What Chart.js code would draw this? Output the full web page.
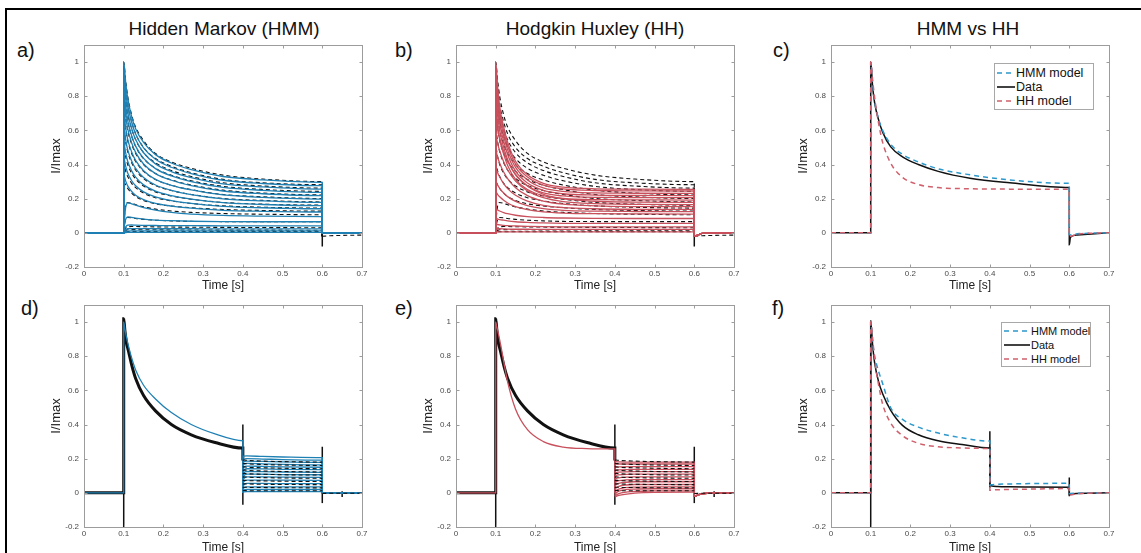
<!DOCTYPE html>
<html><head><meta charset="utf-8">
<script src="https://cdn.jsdelivr.net/npm/chart.js@4.4.1/dist/chart.umd.min.js"></script>
<style>
html,body{margin:0;padding:0;background:#fff;}
body{width:1141px;height:553px;overflow:hidden;position:relative;font-family:"Liberation Sans",Arial,Helvetica,sans-serif;}
.frame{position:absolute;left:5px;top:8px;width:1200px;height:600px;border-left:2px solid #000;border-top:2px solid #000;}
canvas{position:absolute;}
.ttl{position:absolute;font-size:19px;line-height:19px;color:#111;white-space:nowrap;transform:translateX(-50%);}
.lbl{position:absolute;font-size:20px;line-height:20px;color:#111;}
.legend{position:absolute;border:1px solid #a8a8a8;background:#fff;color:#111;box-sizing:border-box;}
.legend .row{position:absolute;left:2px;white-space:nowrap;display:flex;align-items:center;}
.legend svg{display:block;margin-right:1px;}
</style>
</head><body>
<div class="frame"></div>
<div class="ttl" style="left:224px;top:19px">Hidden Markov (HMM)</div>
<div class="ttl" style="left:595px;top:19px">Hodgkin Huxley (HH)</div>
<div class="ttl" style="left:968px;top:19px">HMM vs HH</div>
<div class="lbl" style="left:17px;top:40px">a)</div>
<div class="lbl" style="left:395px;top:40px">b)</div>
<div class="lbl" style="left:773px;top:40px">c)</div>
<div class="lbl" style="left:21px;top:298px">d)</div>
<div class="lbl" style="left:395px;top:298px">e)</div>
<div class="lbl" style="left:772px;top:298px">f)</div>
<canvas id="ca"></canvas><canvas id="cb"></canvas><canvas id="cc"></canvas>
<canvas id="cd"></canvas><canvas id="ce"></canvas><canvas id="cf"></canvas>
<div id="legC" class="legend"></div>
<div id="legF" class="legend"></div>
<script>
// ---------- axis ticks ----------
const xTicks = [0, 0.1, 0.2, 0.3, 0.4, 0.5, 0.6, 0.7];
const yTicks = [-0.2, 0, 0.2, 0.4, 0.6, 0.8, 1];

// ---------- top row (a, b): step 0.1..0.6 s ----------
const timeTop = [0, 0.1, 0.1, 0.105, 0.11, 0.12, 0.13, 0.15, 0.18, 0.22, 0.27, 0.35, 0.45, 0.6, 0.6, 0.62, 0.7];
const hmmTracesA = [
 [0,0,1.00,.88,.79,.68,.61,.53,.458,.409,.37,.33,.31,.296,0,0,0],
 [0,0,.95,.835,.748,.647,.579,.498,.431,.384,.347,.308,.289,.276,0,0,0],
 [0,0,.90,.791,.707,.61,.546,.469,.404,.359,.324,.287,.269,.256,0,0,0],
 [0,0,.84,.737,.659,.569,.508,.436,.376,.333,.30,.266,.249,.237,0,0,0],
 [0,0,.78,.684,.611,.527,.471,.403,.347,.308,.277,.245,.229,.218,0,0,0],
 [0,0,.70,.615,.549,.474,.424,.364,.313,.278,.251,.222,.208,.198,0,0,0],
 [0,0,.62,.545,.487,.421,.377,.324,.28,.249,.224,.199,.187,.178,0,0,0],
 [0,0,.53,.467,.419,.363,.326,.281,.244,.218,.198,.177,.166,.159,0,0,0],
 [0,0,.44,.389,.35,.305,.276,.24,.21,.189,.172,.155,.147,.141,0,0,0],
 [0,0,.34,.303,.275,.242,.22,.194,.172,.157,.145,.132,.126,.122,0,0,0],
 [0,0,.05,.15,.176,.17,.162,.148,.133,.12,.11,.102,.098,.095,0,0,0],
 [0,0,.03,.08,.094,.09,.086,.08,.075,.071,.068,.066,.065,.065,0,0,0],
 [0,0,.01,.035,.045,.046,.045,.044,.043,.042,.042,.041,.041,.041,0,0,0],
 [0,0,.005,.018,.024,.025,.025,.025,.024,.024,.024,.023,.023,.023,0,0,0],
 [0,0,.002,.008,.01,.011,.011,.011,.011,.011,.011,.011,.011,.011,0,0,0],
 [0,0,0,.002,.003,.003,.003,.003,.003,.003,.003,.003,.003,.003,0,0,0]
];
const timeTopData = [0, 0.1, 0.1, 0.105, 0.11, 0.12, 0.13, 0.15, 0.18, 0.22, 0.27, 0.35, 0.45, 0.6, 0.6];
const dataTracesAB = [
 [0,0,1.00,.89,.80,.69,.62,.54,.465,.415,.378,.338,.315,.30,-.02],
 [0,0,.96,.84,.75,.65,.58,.50,.435,.39,.352,.313,.293,.282,-.02],
 [0,0,.90,.79,.70,.61,.545,.47,.41,.365,.33,.293,.274,.262,-.02],
 [0,0,.84,.73,.655,.565,.505,.435,.378,.337,.305,.272,.254,.243,-.02],
 [0,0,.77,.675,.60,.52,.465,.40,.347,.31,.28,.25,.233,.222,-.02],
 [0,0,.69,.605,.54,.465,.418,.36,.312,.279,.253,.225,.211,.201,-.02],
 [0,0,.60,.53,.475,.41,.368,.318,.277,.248,.225,.201,.19,.181,-.02],
 [0,0,.50,.445,.40,.35,.315,.274,.24,.216,.197,.178,.168,.162,-.02],
 [0,0,.40,.36,.33,.29,.265,.233,.206,.187,.172,.158,.15,.145,-.02],
 [0,0,.30,.28,.26,.232,.213,.19,.17,.157,.147,.137,.131,.127,-.02],
 [0,0,.08,.16,.178,.172,.165,.152,.139,.128,.12,.113,.109,.106,-.02],
 [0,0,.04,.08,.09,.088,.084,.079,.074,.07,.067,.066,.066,.066,-.02],
 [0,0,.01,.028,.035,.037,.037,.036,.035,.034,.033,.032,.031,.03,-.02],
 [0,0,.005,.014,.018,.019,.019,.018,.018,.017,.017,.016,.016,.015,-.02],
 [0,0,.002,.006,.007,.007,.007,.007,.007,.007,.007,.007,.007,.007,-.02]
];
const dataTailTime = [0.6, 0.62, 0.7];
const dataTailAB = [-0.02, -0.017, -0.013];
const hhTracesB = [
 [0,0,1.00,.851,.739,.62,.531,.419,.34,.29,.268,.258,.256,.255,-.02,-.003,0],
 [0,0,.96,.817,.71,.595,.51,.402,.327,.279,.257,.248,.246,.245,-.02,-.003,0],
 [0,0,.92,.782,.679,.569,.486,.383,.31,.263,.243,.234,.232,.231,-.02,-.003,0],
 [0,0,.87,.74,.642,.537,.459,.361,.292,.249,.229,.221,.219,.218,-.02,-.003,0],
 [0,0,.81,.689,.599,.502,.43,.339,.275,.234,.216,.208,.207,.206,-.02,-.003,0],
 [0,0,.74,.63,.548,.461,.395,.313,.254,.218,.201,.194,.193,.192,-.02,-.003,0],
 [0,0,.66,.602,.554,.477,.419,.342,.274,.226,.20,.185,.18,.178,-.02,-.003,0],
 [0,0,.57,.521,.481,.416,.368,.303,.246,.206,.183,.171,.167,.165,-.02,-.003,0],
 [0,0,.48,.441,.408,.356,.317,.264,.218,.186,.168,.158,.154,.153,-.02,-.003,0],
 [0,0,.38,.351,.327,.288,.259,.22,.186,.161,.148,.141,.138,.137,-.02,-.003,0],
 [0,0,.30,.279,.261,.233,.212,.184,.159,.142,.132,.127,.125,.124,-.02,-.003,0],
 [0,0,.24,.224,.211,.191,.175,.154,.136,.123,.116,.112,.111,.11,-.02,-.003,0],
 [0,0,.14,.133,.128,.119,.112,.103,.095,.09,.087,.085,.084,.084,-.02,-.003,0],
 [0,0,.085,.081,.078,.074,.07,.065,.061,.058,.056,.055,.055,.055,-.02,-.003,0],
 [0,0,.05,.048,.047,.044,.042,.04,.038,.036,.035,.035,.035,.035,-.02,-.003,0],
 [0,0,.025,.024,.024,.023,.022,.021,.021,.02,.02,.02,.02,.02,-.02,-.003,0],
 [0,0,.006,.006,.006,.006,.006,.006,.006,.006,.006,.006,.006,.006,-.02,-.003,0]
];
// recording artefacts (x, low, high)
const spikeTopX = [0, 0.6];
const spikeTopLo = [0, -0.08];
const spikeTopHi = [0.03, 0];

// ---------- panel c ----------
const timeC = [0, 0.1, 0.1, 0.105, 0.11, 0.12, 0.13, 0.15, 0.18, 0.22, 0.27, 0.35, 0.45, 0.6, 0.6, 0.603, 0.62, 0.7];
const cHmm  = [0,0,1.00,.87,.77,.665,.60,.52,.46,.415,.375,.34,.31,.29,-.01,-.012,-.006,0];
const cData = [0,0,1.00,.85,.76,.66,.59,.505,.445,.40,.36,.32,.293,.265,-.07,-.025,-.012,0];
const cHh   = [0,0,1.00,.89,.79,.64,.53,.41,.325,.283,.265,.258,.256,.255,-.02,-.02,-.008,0];

// ---------- bottom row (d, e): conditioning pulse 0.1..0.4 s ----------
const timeCond = [0, 0.1, 0.1, 0.103, 0.107, 0.113, 0.12, 0.13, 0.15, 0.18, 0.22, 0.27, 0.33, 0.4, 0.4];
const condData = [0,0,1.02,.95,.88,.82,.75,.67,.57,.48,.40,.34,.295,.262,.19];
const condHmmD = [0,0,1.00,.96,.91,.85,.79,.72,.63,.55,.47,.40,.345,.305,0];
const condHhE  = [0,0,1.00,.97,.93,.86,.77,.65,.49,.37,.30,.268,.259,.257,0];
// test pulses 0.4..0.6 s
const timeTest = [0.4, 0.402, 0.41, 0.45, 0.5, 0.6, 0.6, 0.62, 0.7];
const hmmTestD = [
 [.20,.215,.216,.213,.21,.206,0,0,0],
 [.17,.195,.20,.198,.195,.192,0,0,0],
 [.15,.18,.186,.184,.181,.178,0,0,0],
 [.12,.165,.172,.17,.167,.164,0,0,0],
 [.10,.15,.157,.155,.152,.15,0,0,0],
 [.08,.132,.141,.14,.138,.136,0,0,0],
 [.06,.115,.125,.124,.122,.12,0,0,0],
 [.04,.098,.11,.109,.107,.106,0,0,0],
 [.03,.082,.094,.093,.092,.091,0,0,0],
 [.02,.064,.075,.075,.074,.073,0,0,0],
 [.01,.045,.055,.055,.054,.054,0,0,0],
 [.005,.028,.035,.035,.035,.035,0,0,0],
 [0,.015,.02,.02,.02,.02,0,0,0],
 [0,.005,.008,.008,.008,.008,0,0,0]
];
const timeTestData = [0.4, 0.402, 0.41, 0.45, 0.5, 0.6];
const dataTestDE = [
 [.19,.192,.19,.186,.183,.18],
 [.17,.172,.17,.166,.163,.16],
 [.15,.153,.15,.147,.144,.141],
 [.13,.134,.132,.128,.125,.122],
 [.11,.114,.112,.109,.106,.104],
 [.09,.094,.092,.089,.087,.085],
 [.07,.074,.072,.07,.068,.066],
 [.05,.053,.052,.05,.049,.048],
 [.03,.033,.032,.031,.03,.029],
 [.012,.014,.013,.012,.012,.012]
];
const dataTailDETime = [0.6, 0.63, 0.7];
const dataTailDE = [-0.004, -0.002, -0.002];
const hhTestE = [
 [.18,.182,.181,.18,.18,.18,-.02,-.004,0],
 [.165,.168,.169,.169,.169,.169,-.02,-.004,0],
 [.145,.15,.152,.153,.153,.153,-.02,-.004,0],
 [.125,.132,.135,.137,.137,.137,-.02,-.004,0],
 [.11,.117,.121,.124,.124,.124,-.02,-.004,0],
 [.09,.10,.105,.11,.11,.11,-.02,-.004,0],
 [.07,.08,.088,.094,.094,.094,-.02,-.004,0],
 [.05,.062,.071,.078,.078,.078,-.02,-.004,0],
 [.03,.045,.056,.065,.065,.065,-.02,-.004,0],
 [.01,.025,.038,.049,.049,.049,-.02,-.004,0],
 [-.005,.01,.022,.034,.035,.035,-.02,-.004,0],
 [-.015,-.005,.01,.022,.024,.024,-.02,-.004,0],
 [-.02,-.015,-.005,.008,.011,.012,-.02,-.004,0],
 [-.025,-.022,-.015,-.002,.003,.004,-.02,-.004,0]
];
const spikeBotX  = [0.1, 0.4, 0.6, 0.65];
const spikeBotLo = [-0.2, -0.07, -0.06, -0.025];
const spikeBotHi = [1.02, 0.40, 0.27, 0.01];

// ---------- panel f ----------
const timeF = [0, 0.1, 0.1, 0.105, 0.11, 0.12, 0.13, 0.15, 0.18, 0.22, 0.27, 0.33, 0.4, 0.4, 0.403, 0.42, 0.45, 0.5, 0.6, 0.6, 0.603, 0.62, 0.7];
const fHmm  = [0,0,1.00,.88,.80,.71,.64,.50,.43,.385,.35,.322,.303,.045,.047,.05,.052,.054,.056,-.005,-.004,-.002,0];
const fData = [0,0,1.00,.86,.76,.65,.58,.485,.395,.34,.305,.283,.262,.045,.042,.037,.035,.034,.033,-.01,-.008,-.004,0];
const fHh   = [0,0,1.00,.90,.78,.63,.52,.41,.335,.29,.27,.263,.26,.015,.016,.018,.02,.022,.025,-.01,-.012,-.005,0];
const spikeFX  = [0.1, 0.4, 0.6];
const spikeFLo = [-0.2, 0.03, -0.02];
const spikeFHi = [1.01, 0.36, 0.09];

// ---------- styling ----------
const BLUE = '#1f80b4', RED = '#c8505c', BLACK = '#111111';
const BLUE_D = '#2b98cc', RED_D = '#d0606c';
const FONT = '"Liberation Sans", Arial, Helvetica, sans-serif';
const W = 278, H = 222;

function pts(times, vals) { return times.map((t, i) => ({x: t, y: vals[i]})); }
function line(times, vals, color, width, dash, order, label) {
  return { label: label || '', data: pts(times, vals), borderColor: color, borderWidth: width,
    borderDash: dash || [], pointRadius: 0, fill: false, order: order,
    cubicInterpolationMode: 'monotone', borderCapStyle: 'butt' };
}
function spikes(xs, lo, hi, color, width, order) {
  return xs.map((x, i) => ({ data: [{x: x, y: lo[i]}, {x: x, y: hi[i]}], borderColor: color,
    borderWidth: width, pointRadius: 0, fill: false, order: order, tension: 0 }));
}

const frameTicks = {
  id: 'frameTicks',
  afterDraw(chart) {
    const {ctx, chartArea: a, scales} = chart;
    const L = Math.round(a.left) + 0.5, R = Math.round(a.right) + 0.5;
    const T = Math.round(a.top) + 0.5, B = Math.round(a.bottom) + 0.5;
    ctx.save();
    ctx.strokeStyle = '#9c9c9c'; ctx.lineWidth = 1; ctx.setLineDash([]);
    ctx.strokeRect(L, T, R - L, B - T);
    ctx.beginPath();
    scales.x.ticks.forEach(t => {
      const p = Math.round(scales.x.getPixelForValue(t.value)) + 0.5;
      ctx.moveTo(p, B); ctx.lineTo(p, B - 3); ctx.moveTo(p, T); ctx.lineTo(p, T + 3);
    });
    scales.y.ticks.forEach(t => {
      const p = Math.round(scales.y.getPixelForValue(t.value)) + 0.5;
      ctx.moveTo(L, p); ctx.lineTo(L + 3, p); ctx.moveTo(R, p); ctx.lineTo(R - 3, p);
    });
    ctx.stroke();
    ctx.restore();
  }
};

function fmt(v) { return String(+(+v).toFixed(1)); }

function makeChart(id, left, top, datasets, xTitleGap) {
  const cv = document.getElementById(id);
  cv.width = W + 70; cv.height = H + 50;
  cv.style.left = (left - 60) + 'px'; cv.style.top = (top - 10) + 'px';
  return new Chart(cv, {
    type: 'line',
    data: { datasets: datasets },
    options: {
      responsive: false, animation: false, events: [],
      layout: { padding: { top: 10, right: 10, left: 0, bottom: 0 } },
      plugins: { legend: { display: false }, tooltip: { enabled: false } },
      scales: {
        x: { type: 'linear', min: 0, max: 0.7,
          afterBuildTicks: s => { s.ticks = xTicks.map(v => ({value: v})); },
          afterFit: s => { s.height = 40; },
          grid: { display: false, drawTicks: false }, border: { display: false },
          ticks: { padding: 2, color: '#4a4a4a', font: { family: FONT, size: 8 }, maxRotation: 0, callback: fmt },
          title: { display: true, text: 'Time [s]', color: '#222', font: { family: FONT, size: 12 },
                   padding: { top: 0, bottom: xTitleGap } } },
        y: { type: 'linear', min: -0.2, max: 1.1,
          afterBuildTicks: s => { s.ticks = yTicks.map(v => ({value: v})); },
          afterFit: s => { s.width = 60; },
          grid: { display: false, drawTicks: false }, border: { display: false },
          ticks: { padding: 5, color: '#4a4a4a', font: { family: FONT, size: 8 }, callback: fmt },
          title: { display: true, text: 'I/Imax', color: '#222', font: { family: FONT, size: 13 },
                   padding: { top: 25, bottom: 0 } } }
      }
    },
    plugins: [frameTicks]
  });
}

// ---- panel a ----
let dsA = [];
hmmTracesA.forEach(v => dsA.push(line(timeTop, v, BLUE, 1.3, null, 1)));
dataTracesAB.forEach(v => dsA.push(line(timeTopData, v, BLACK, 1.1, [4, 3], 2)));
dsA.push(line(dataTailTime, dataTailAB, BLACK, 1.1, [4, 3], 2));
dsA = dsA.concat(spikes(spikeTopX, spikeTopLo, spikeTopHi, BLACK, 1.5, 3));
makeChart('ca', 84, 45, dsA, 14);

// ---- panel b ----
let dsB = [];
hhTracesB.forEach(v => dsB.push(line(timeTop, v, RED, 1.3, null, 1)));
dataTracesAB.forEach(v => dsB.push(line(timeTopData, v, BLACK, 1.1, [4, 3], 2)));
dsB.push(line(dataTailTime, dataTailAB, BLACK, 1.1, [4, 3], 2));
dsB = dsB.concat(spikes(spikeTopX, spikeTopLo, spikeTopHi, BLACK, 1.5, 3));
makeChart('cb', 456, 45, dsB, 14);

// ---- panel c ----
const dsC = [
  line(timeC, cHmm, BLUE_D, 1.5, [5, 4], 1, 'HMM model'),
  line(timeC, cData, BLACK, 1.5, null, 2, 'Data'),
  line(timeC, cHh, RED_D, 1.5, [5, 4], 0, 'HH model')
];
makeChart('cc', 831, 45, dsC, 14);

// ---- panel d ----
let dsD = [];
dsD.push(line(timeCond, condHmmD, BLUE, 1.3, null, 1));
hmmTestD.forEach(v => dsD.push(line(timeTest, v, BLUE, 1.3, null, 1)));
dsD.push(line(timeCond, condData, BLACK, 3, null, 2));
dataTestDE.forEach(v => dsD.push(line(timeTestData, v, BLACK, 1.1, [4, 3], 0)));
dsD.push(line(dataTailDETime, dataTailDE, BLACK, 1.1, [4, 3], 0));
dsD = dsD.concat(spikes(spikeBotX, spikeBotLo, spikeBotHi, BLACK, 1.5, 3));
makeChart('cd', 84, 305, dsD, 12);

// ---- panel e ----
let dsE = [];
dsE.push(line(timeCond, condHhE, RED, 1.3, null, 1));
hhTestE.forEach(v => dsE.push(line(timeTest, v, RED, 1.3, null, 1)));
dsE.push(line(timeCond, condData, BLACK, 3, null, 2));
dataTestDE.forEach(v => dsE.push(line(timeTestData, v, BLACK, 1.1, [4, 3], 0)));
dsE.push(line(dataTailDETime, dataTailDE, BLACK, 1.1, [4, 3], 0));
dsE = dsE.concat(spikes(spikeBotX, spikeBotLo, spikeBotHi, BLACK, 1.5, 3));
makeChart('ce', 456, 305, dsE, 12);

// ---- panel f ----
let dsF = [
  line(timeF, fHmm, BLUE_D, 1.5, [5, 4], 1, 'HMM model'),
  line(timeF, fData, BLACK, 1.5, null, 2, 'Data'),
  line(timeF, fHh, RED_D, 1.5, [5, 4], 0, 'HH model')
];
dsF = dsF.concat(spikes(spikeFX, spikeFLo, spikeFHi, BLACK, 1.5, 3));
makeChart('cf', 831, 305, dsF, 12);

// ---- legends (HTML) built from the dataset styles ----
function buildLegend(elId, sets, box, firstRow, fontSize, sampleW, rowH) {
  const el = document.getElementById(elId);
  el.style.left = box[0] + 'px'; el.style.top = box[1] + 'px';
  el.style.width = box[2] + 'px'; el.style.height = box[3] + 'px';
  el.style.fontSize = fontSize + 'px';
  sets.forEach((d, i) => {
    const row = document.createElement('div');
    row.className = 'row';
    row.style.top = (firstRow + i * rowH) + 'px';
    row.style.height = rowH + 'px';
    const dash = d.borderDash && d.borderDash.length ? d.borderDash.join(',') : 'none';
    row.innerHTML = '<svg width="' + sampleW + '" height="4"><line x1="0" y1="2" x2="' + sampleW +
      '" y2="2" stroke="' + d.borderColor + '" stroke-width="1.6" stroke-dasharray="' + dash + '"/></svg><span>' + d.label + '</span>';
    el.appendChild(row);
  });
}
buildLegend('legC', dsC, [994, 63, 100, 47], 2, 12.5, 18, 14);
buildLegend('legF', dsF.slice(0, 3), [1001, 322, 90, 45], 1, 11, 26, 14);
</script>
</body></html>
